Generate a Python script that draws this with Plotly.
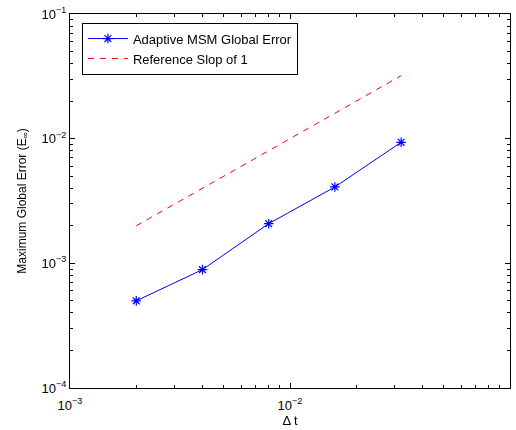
import plotly.graph_objects as go

dt = [0.002, 0.004, 0.008, 0.016, 0.032]
err = [5.0e-4, 8.9e-4, 2.08e-3, 4.1e-3, 9.35e-3]
ref_y = [0.002, 0.004, 0.008, 0.016, 0.032]

x_ticks = [1e-3, 1e-2, 1e-1]
x_ticktext = ["10<sup>−3</sup>", "10<sup>−2</sup>", "10<sup>−1</sup>"]
y_ticks = [1e-4, 1e-3, 1e-2, 1e-1]
y_ticktext = ["10<sup>−4</sup>", "10<sup>−3</sup>", "10<sup>−2</sup>", "10<sup>−1</sup>"]

x_minor = [m * 10.0 ** e for e in (-3, -2) for m in range(2, 10)]
y_minor = [m * 10.0 ** e for e in (-4, -3, -2) for m in range(2, 10)]

fig = go.Figure()
fig.add_trace(go.Scatter(
    x=dt, y=err, mode="lines+markers", name="Adaptive MSM Global Error",
    line=dict(color="#0000ff", width=1),
    marker=dict(symbol="asterisk-open", size=8, color="#0000ff",
                line=dict(color="#0000ff", width=1.2)),
))
fig.add_trace(go.Scatter(
    x=dt, y=ref_y, mode="lines", name="Reference Slop of 1",
    line=dict(color="#ff0000", width=1, dash="6px,6px"),
))
# invisible trace that only makes the mirrored (top/right) tick axes render
fig.add_trace(go.Scatter(
    x=dt, y=err, xaxis="x2", yaxis="y2", mode="markers", opacity=0,
    showlegend=False, hoverinfo="skip",
))

axis_common = dict(
    type="log", showgrid=False, zeroline=False,
    showline=True, linecolor="black", linewidth=1,
    ticks="inside", ticklen=5, tickcolor="black",
    tickfont=dict(family="Arial", size=13, color="black"),
)

fig.update_layout(
    xaxis=dict(**axis_common, range=[-3, -1], tickvals=x_ticks, ticktext=x_ticktext,
               ticklabelstandoff=5, automargin=False,
               minor=dict(ticks="inside", ticklen=3, tickcolor="black", showgrid=False,
                          tickmode="array", tickvals=x_minor),
               title=dict(text="Δ t", font=dict(family="Arial", size=13, color="black"),
                          standoff=4)),
    yaxis=dict(**axis_common, range=[-4, -1], tickvals=y_ticks, ticktext=y_ticktext,
               automargin=False,
               minor=dict(ticks="inside", ticklen=3, tickcolor="black", showgrid=False,
                          tickmode="array", tickvals=y_minor),
               title=dict(text="Maximum Global Error (E<sub>∞</sub>)",
                          font=dict(family="Arial", size=12, color="black"), standoff=12)),
    xaxis2=dict(**axis_common, range=[-3, -1], tickvals=x_ticks, showticklabels=False,
                automargin=False,
                minor=dict(ticks="inside", ticklen=3, tickcolor="black", showgrid=False,
                           tickmode="array", tickvals=x_minor),
                overlaying="x", side="top", anchor="y"),
    yaxis2=dict(**axis_common, range=[-4, -1], tickvals=y_ticks, showticklabels=False,
                automargin=False,
                minor=dict(ticks="inside", ticklen=3, tickcolor="black", showgrid=False,
                           tickmode="array", tickvals=y_minor),
                overlaying="y", side="right", anchor="x"),
)

fig.update_layout(
    width=516, height=430,
    margin=dict(l=70, r=6, t=14, b=42),
    paper_bgcolor="white", plot_bgcolor="white",
    showlegend=True,
    legend=dict(x=0.027, y=0.977, xanchor="left", yanchor="top",
                bordercolor="black", borderwidth=1, bgcolor="white",
                font=dict(family="Arial", size=13, color="black"),
                tracegroupgap=0, itemwidth=40),
)

fig.write_html(
    "out.html",
    config={"displayModeBar": False},
    post_script="document.body.style.margin='0';document.body.style.overflow='hidden';",
)
